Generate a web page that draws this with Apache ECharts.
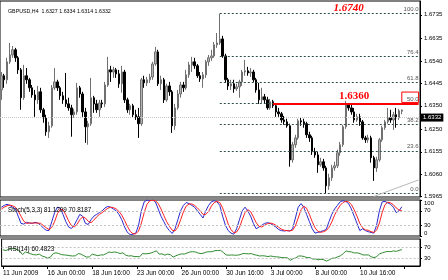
<!DOCTYPE html>
<html><head><meta charset="utf-8">
<script src="https://cdn.jsdelivr.net/npm/echarts@6/dist/echarts.min.js"></script>
<style>html,body{margin:0;padding:0;background:#fff}#c{width:448px;height:280px}</style>
</head><body><div id="c"></div>
<script>
const openP=[1.6417,1.6477,1.6460,1.6536,1.6565,1.6587,1.6553,1.6502,1.6384,1.6477,1.6460,1.6426,1.6396,1.6375,1.6409,1.6333,1.6299,1.6240,1.6265,1.6426,1.6451,1.6426,1.6392,1.6375,1.6358,1.6341,1.6312,1.6324,1.6426,1.6400,1.6324,1.6261,1.6274,1.6384,1.6358,1.6333,1.6362,1.6358,1.6438,1.6502,1.6493,1.6502,1.6485,1.6443,1.6493,1.6375,1.6333,1.6350,1.6312,1.6303,1.6274,1.6460,1.6447,1.6460,1.6472,1.6527,1.6578,1.6443,1.6460,1.6375,1.6434,1.6409,1.6265,1.6341,1.6400,1.6438,1.6426,1.6481,1.6523,1.6536,1.6519,1.6477,1.6464,1.6481,1.6536,1.6553,1.6561,1.6608,1.6616,1.6633,1.6561,1.6460,1.6434,1.6443,1.6422,1.6430,1.6451,1.6493,1.6498,1.6489,1.6493,1.6460,1.6417,1.6375,1.6388,1.6375,1.6341,1.6367,1.6350,1.6324,1.6316,1.6290,1.6282,1.6265,1.6121,1.6185,1.6214,1.6286,1.6282,1.6274,1.6227,1.6214,1.6155,1.6142,1.6100,1.6113,1.6087,1.6011,1.6045,1.6087,1.6096,1.6151,1.6185,1.6261,1.6358,1.6341,1.6324,1.6290,1.6303,1.6282,1.6214,1.6206,1.6214,1.6130,1.6087,1.6121,1.6206,1.6257,1.6282,1.6299,1.6290,1.6312,1.6299,1.6327];
const highP=[1.6493,1.6485,1.6553,1.6616,1.6603,1.6595,1.6561,1.6510,1.6523,1.6510,1.6468,1.6438,1.6417,1.6434,1.6426,1.6341,1.6312,1.6282,1.6438,1.6510,1.6460,1.6434,1.6409,1.6489,1.6384,1.6354,1.6337,1.6447,1.6434,1.6409,1.6341,1.6286,1.6468,1.6392,1.6375,1.6375,1.6375,1.6451,1.6557,1.6519,1.6515,1.6510,1.6502,1.6519,1.6502,1.6384,1.6358,1.6358,1.6333,1.6341,1.6468,1.6477,1.6472,1.6485,1.6536,1.6599,1.6587,1.6477,1.6468,1.6443,1.6451,1.6417,1.6358,1.6417,1.6451,1.6451,1.6502,1.6536,1.6557,1.6553,1.6527,1.6493,1.6493,1.6544,1.6565,1.6587,1.6620,1.6658,1.6740,1.6646,1.6570,1.6468,1.6460,1.6460,1.6443,1.6460,1.6502,1.6544,1.6515,1.6510,1.6502,1.6468,1.6447,1.6426,1.6400,1.6388,1.6379,1.6375,1.6358,1.6341,1.6324,1.6307,1.6295,1.6274,1.6197,1.6227,1.6295,1.6299,1.6295,1.6282,1.6240,1.6223,1.6172,1.6155,1.6130,1.6125,1.6096,1.6062,1.6100,1.6113,1.6164,1.6197,1.6269,1.6371,1.6360,1.6354,1.6341,1.6316,1.6316,1.6290,1.6223,1.6227,1.6223,1.6138,1.6134,1.6214,1.6265,1.6290,1.6341,1.6333,1.6324,1.6341,1.6337,1.6334];
const lowP=[1.6375,1.6426,1.6443,1.6527,1.6553,1.6536,1.6485,1.6333,1.6375,1.6443,1.6409,1.6384,1.6303,1.6358,1.6320,1.6278,1.6223,1.6214,1.6257,1.6417,1.6413,1.6375,1.6358,1.6345,1.6329,1.6219,1.6299,1.6312,1.6384,1.6303,1.6193,1.6185,1.6265,1.6320,1.6320,1.6303,1.6341,1.6345,1.6430,1.6451,1.6468,1.6468,1.6426,1.6405,1.6362,1.6320,1.6312,1.6299,1.6290,1.6214,1.6265,1.6426,1.6434,1.6447,1.6460,1.6519,1.6434,1.6417,1.6362,1.6367,1.6392,1.6235,1.6248,1.6333,1.6384,1.6409,1.6417,1.6468,1.6493,1.6506,1.6468,1.6451,1.6426,1.6468,1.6519,1.6540,1.6553,1.6595,1.6608,1.6553,1.6447,1.6417,1.6417,1.6405,1.6413,1.6384,1.6434,1.6477,1.6477,1.6472,1.6451,1.6405,1.6358,1.6362,1.6358,1.6333,1.6333,1.6341,1.6303,1.6303,1.6278,1.6269,1.6257,1.6092,1.6109,1.6172,1.6206,1.6265,1.6257,1.6214,1.6197,1.6142,1.6130,1.6066,1.6092,1.6075,1.5980,1.5994,1.6032,1.6075,1.6087,1.6138,1.6176,1.6252,1.6329,1.6312,1.6278,1.6282,1.6265,1.6206,1.6193,1.6193,1.6109,1.6032,1.6070,1.6113,1.6197,1.6248,1.6274,1.6278,1.6248,1.6257,1.6290,1.6314];
const closeP=[1.6477,1.6460,1.6536,1.6565,1.6587,1.6553,1.6502,1.6384,1.6477,1.6460,1.6426,1.6396,1.6375,1.6409,1.6333,1.6299,1.6240,1.6265,1.6426,1.6451,1.6426,1.6392,1.6375,1.6358,1.6341,1.6312,1.6324,1.6426,1.6400,1.6324,1.6261,1.6274,1.6384,1.6358,1.6333,1.6362,1.6358,1.6438,1.6502,1.6493,1.6502,1.6485,1.6443,1.6493,1.6375,1.6333,1.6350,1.6312,1.6303,1.6274,1.6460,1.6447,1.6460,1.6472,1.6527,1.6578,1.6443,1.6460,1.6375,1.6434,1.6409,1.6265,1.6341,1.6400,1.6438,1.6426,1.6481,1.6523,1.6536,1.6519,1.6477,1.6464,1.6481,1.6536,1.6553,1.6561,1.6608,1.6616,1.6633,1.6561,1.6460,1.6434,1.6443,1.6422,1.6430,1.6451,1.6493,1.6498,1.6489,1.6493,1.6460,1.6417,1.6375,1.6388,1.6375,1.6341,1.6367,1.6350,1.6324,1.6316,1.6290,1.6282,1.6265,1.6121,1.6185,1.6214,1.6286,1.6282,1.6274,1.6227,1.6214,1.6155,1.6142,1.6100,1.6113,1.6087,1.6011,1.6045,1.6087,1.6096,1.6151,1.6185,1.6261,1.6358,1.6341,1.6324,1.6290,1.6303,1.6282,1.6214,1.6206,1.6214,1.6130,1.6087,1.6121,1.6206,1.6257,1.6282,1.6299,1.6290,1.6312,1.6299,1.6329,1.6332];
const stochK=[80,85,88,85,80,75,55,35,33,38,36,35,38,36,30,22,16,15,40,65,80,78,60,40,25,21,30,45,60,55,35,32,45,55,60,65,70,78,82,80,75,70,60,45,25,10,4,5,8,30,70,95,100,98,100,95,75,55,40,25,15,7,20,45,70,85,93,90,85,80,70,60,50,70,85,95,98,95,85,55,30,15,8,5,20,45,70,80,70,55,35,20,25,30,35,37,35,30,25,18,15,14,15,14,20,50,80,90,80,60,40,20,8,10,12,15,18,40,60,75,85,95,98,96,90,75,55,35,15,20,15,12,10,8,30,70,95,96,92,88,80,65,70,81.12];
const stochD=[75,80,84,86,84,80,70,55,41,35,36,36,36,36,35,29,23,18,24,40,62,74,73,59,42,29,25,32,45,53,50,41,37,44,53,60,65,71,77,80,79,75,68,58,43,27,13,6,6,14,36,65,88,98,99,98,90,75,57,40,27,16,14,24,45,67,83,89,89,85,78,70,60,60,68,83,93,96,93,78,57,33,18,9,11,23,45,65,73,68,53,37,27,25,30,34,36,34,30,24,19,16,15,14,16,28,50,73,83,77,60,40,23,13,10,12,15,24,39,58,73,85,93,96,95,87,73,55,35,23,17,16,12,10,16,36,65,87,94,92,87,78,72,70.82];
const rsiV=[60,57,62,64,65,61,56,42,52,49,45,42,41,44,37,34,29,33,46,49,46,42,41,40,38,37,38,46,44,38,33,34,44,41,38,41,41,46,52,50,52,50,46,49,40,37,38,35,35,34,46,45,46,48,52,56,44,45,40,44,42,33,38,42,45,44,48,52,53,52,48,46,48,52,53,53,57,57,58,50,41,40,41,40,40,42,46,46,45,46,42,40,37,38,37,35,37,35,34,33,31,31,30,21,27,30,37,37,35,31,31,26,26,23,25,23,18,23,29,29,34,38,46,56,53,52,48,49,46,41,41,41,34,31,35,45,49,52,54,53,56,54,58,60.48];
const dateLabels=['11 Jun 2009','16 Jun 00:00','18 Jun 16:00','23 Jun 00:00','26 Jun 00:00','30 Jun 16:00','3 Jul 00:00','8 Jul 00:00','10 Jul 16:00'];
const priceTicks=[1.5965,1.6060,1.6155,1.6250,1.6350,1.6445,1.6540,1.6635,1.6735];
const oscTicks=[0,30,70,100];
const oscLevels=[30,70];
const fibLevels=[0,23.6,38.2,50,61.8,76.4,100];
const fibHigh=1.6740, fibLow=1.5980, fibStartBar=78;
const resistance=1.6360, resistanceStartBar=97;
const lastPrice=1.6332;
const titleText='GBPUSD,H4  1.6327 1.6334 1.6314 1.6332';
const stochText='Stoch(5,3,3) 81.1209 70.8187';
const rsiText='RSI(14) 60.4823';

const NCAT=150;
const cats=[]; for(let i=0;i<NCAT;i++) cats.push(String(i));
const candles=openP.map((o,i)=>[o,closeP[i],lowP[i],highP[i]]);
const FONT='Liberation Sans';
const fibLines=fibLevels.map(l=>{
  const p=fibLow+(fibHigh-fibLow)*l/100;
  return [{coord:[fibStartBar,p],lineStyle:{color:'#2f4f4f',type:[2,2],width:1},
    label:{show:true,position:'insideEndTop',formatter:l.toFixed(1),color:'#555',fontSize:6,fontFamily:FONT,distance:[0,1]}},{coord:[NCAT-1,p]}];
});

const chart=echarts.init(document.getElementById('c'),null,{renderer:'canvas'});
const hiddenX=(gi)=>({type:'category',gridIndex:gi,data:cats,boundaryGap:true,axisLine:{show:false},axisTick:{show:false},axisLabel:{show:false},splitLine:{show:false}});
const oscY=(gi)=>({type:'value',gridIndex:gi,position:'right',min:0,max:100,
     axisLine:{show:true,lineStyle:{color:'#000'}},
     axisTick:{show:true,length:2,customValues:oscTicks,lineStyle:{color:'#000'}},
     axisLabel:{show:true,customValues:oscTicks,fontSize:6,color:'#000',margin:4,verticalAlignMaxLabel:'top',verticalAlignMinLabel:'bottom'},
     splitLine:{show:false}});
const levelLines={silent:true,symbol:'none',label:{show:false},lineStyle:{color:'#c0c0c0',type:[2,2],width:1},data:oscLevels.map(v=>({yAxis:v}))};
chart.setOption({
  animation:false,
  textStyle:{fontFamily:FONT},
  title:[
    {text:titleText,left:3,top:4,textStyle:{fontSize:5.3,fontWeight:'normal',color:'#000',fontFamily:FONT}},
    {text:stochText,left:3,top:202,textStyle:{fontSize:6.3,fontWeight:'normal',color:'#000',fontFamily:FONT}},
    {text:rsiText,left:3,top:241,textStyle:{fontSize:6.3,fontWeight:'normal',color:'#000',fontFamily:FONT}}
  ],
  grid:[
    {left:0,top:1,width:420,height:196,show:true,borderColor:'#000',borderWidth:1},
    {left:0,top:200,width:420,height:36,show:true,borderColor:'#000',borderWidth:1},
    {left:0,top:239,width:420,height:27,show:true,borderColor:'#000',borderWidth:1}
  ],
  graphic:[
    {type:'rect',shape:{x:0,y:197.5,width:420,height:2},style:{fill:'#8a8a8a'},silent:true},
    {type:'rect',shape:{x:0,y:236.5,width:420,height:2},style:{fill:'#8a8a8a'},silent:true}
  ],
  xAxis:[hiddenX(0),hiddenX(1),
    {type:'category',gridIndex:2,data:cats,boundaryGap:true,
     axisLine:{show:true,lineStyle:{color:'#000'}},
     axisTick:{show:true,interval:15,alignWithLabel:true,length:3,lineStyle:{color:'#000'}},
     axisLabel:{show:true,interval:15,align:'left',fontSize:6.5,color:'#000',margin:4,
       formatter:(v,i)=>dateLabels[i/16]||''},
     splitLine:{show:false}}],
  yAxis:[
    {type:'value',gridIndex:0,position:'right',min:1.59637,max:1.67935,
     axisLine:{show:true,lineStyle:{color:'#000'}},
     axisTick:{show:true,length:2,customValues:priceTicks,lineStyle:{color:'#000'}},
     axisLabel:{show:true,customValues:priceTicks,formatter:v=>v.toFixed(4),fontSize:6,color:'#000',margin:4},
     splitLine:{show:false}},
    oscY(1),oscY(2)
  ],
  series:[
    {type:'candlestick',xAxisIndex:0,yAxisIndex:0,data:candles,barWidth:2,
     itemStyle:{color:'#b4b4b4',color0:'#000',borderColor:'#707070',borderColor0:'#000',borderWidth:1},
     markLine:{silent:true,symbol:'none',animation:false,
       data:[
         {yAxis:lastPrice,lineStyle:{color:'#c8c8c8',type:[1,1],width:1},
          label:{show:true,position:'end',formatter:lastPrice.toFixed(4),backgroundColor:'#000',color:'#fff',fontSize:6,padding:[1,2],distance:1}},
         ...fibLines,
         [{coord:[resistanceStartBar,resistance],lineStyle:{color:'#ff0000',type:'solid',width:2},label:{show:false}},{coord:[NCAT-1,resistance]}],
         [{coord:[133,1.5966],lineStyle:{color:'#b8b8b8',type:'solid',width:1},label:{show:false}},{coord:[NCAT-1,1.6036]}]
       ]},
     markArea:{silent:true,data:[[{coord:[143,1.6408],itemStyle:{color:'rgba(0,0,0,0)',borderColor:'#ff0000',borderWidth:1}},{coord:[NCAT-1,1.6364]}]]},
     markPoint:{silent:true,symbol:'circle',symbolSize:0,
       data:[
         {coord:[126,1.6392],label:{show:true,formatter:resistance.toFixed(4),color:'#ff0000',fontWeight:'bold',fontSize:11,fontFamily:'Liberation Serif'}},
         {coord:[124,1.6764],label:{show:true,formatter:fibHigh.toFixed(4),color:'#ff0000',fontWeight:'bold',fontStyle:'italic',fontSize:11,fontFamily:'Liberation Serif'}}
       ]}
    },
    {type:'line',xAxisIndex:1,yAxisIndex:1,data:stochK,symbol:'none',lineStyle:{color:'#2a2ad0',width:1},markLine:levelLines},
    {type:'line',xAxisIndex:1,yAxisIndex:1,data:stochD,symbol:'none',lineStyle:{color:'#ff2020',width:1}},
    {type:'line',xAxisIndex:2,yAxisIndex:2,data:rsiV,symbol:'none',lineStyle:{color:'#2e8b2e',width:1},markLine:levelLines}
  ]
});
</script></body></html>
